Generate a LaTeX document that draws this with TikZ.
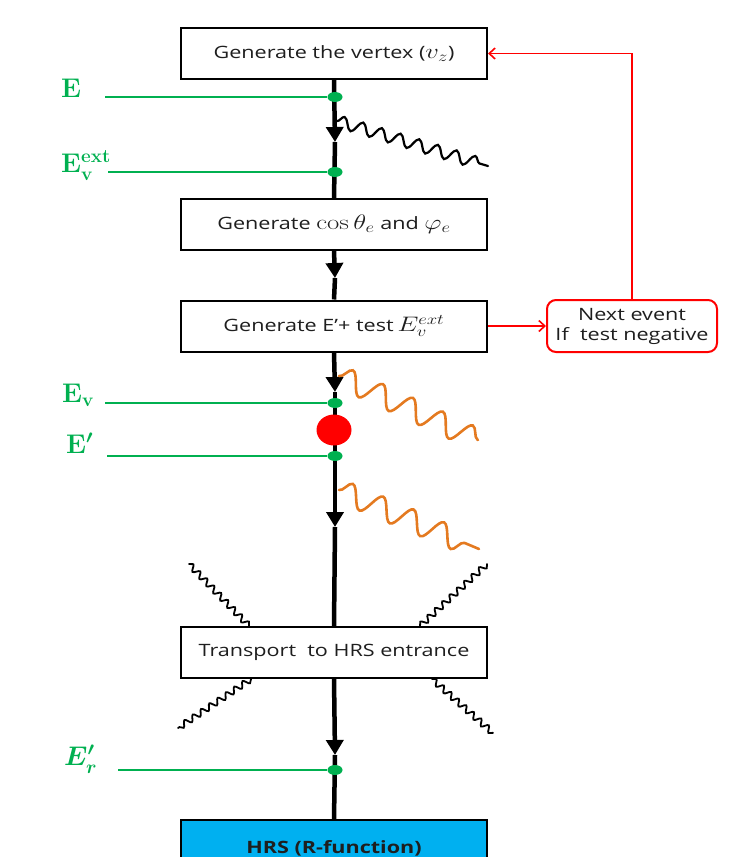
\RequirePackage{fix-cm}
\documentclass[tikz,border=0pt]{standalone}
\usepackage[no-math]{fontspec}
\setmainfont{Open Sans}
\usepackage{amsmath}
\usetikzlibrary{arrows.meta,decorations.pathmorphing,shapes.geometric}

\definecolor{gcol}{RGB}{0,176,80}
\definecolor{ocol}{RGB}{228,122,32}
\definecolor{rcol}{RGB}{255,0,0}
\definecolor{hcol}{RGB}{0,176,240}
\definecolor{tcol}{RGB}{30,30,30}

% box captions are set slightly wide
\newcommand\widetxt[1]{\scalebox{1.27}[1]{#1}}
% formulas inside captions, a little larger than the text
\newcommand\mth[1]{{\fontsize{21}{21}\selectfont$#1$}}

\begin{document}
\begin{tikzpicture}[x=1pt,y=-1pt,
  stepbox/.style={draw=black, line width=2pt, fill=white, minimum width=306pt,
    minimum height=51pt, inner sep=0pt, text=tcol, font=\fontsize{17}{20}\selectfont},
  notebox/.style={draw=rcol, line width=2pt, fill=white, rounded corners=9pt,
    minimum width=170pt, minimum height=52pt, inner sep=0pt, align=center,
    text=tcol, font=\fontsize{17}{20}\selectfont},
  hrsbox/.style={draw=black, line width=2pt, fill=hcol, minimum width=306pt,
    minimum height=56pt, inner sep=0pt, text=tcol, font=\fontsize{17}{20}\selectfont\bfseries},
  mainline/.style={line width=4.5pt, black},
  tip/.style={-{Triangle[width=17pt,length=15pt]}},
  dotg/.style={ellipse, fill=gcol, minimum width=15pt, minimum height=10pt, inner sep=0pt},
  gline/.style={line width=2.5pt, gcol},
  glabel/.style={text=gcol, font=\fontsize{27}{30}\selectfont\boldmath, inner sep=0pt, anchor=base west},
  redline/.style={line width=1.6pt, rcol},
  wave/.style={decorate, line width=2.2pt, line cap=round},
]
\clip (0,0) rectangle (739,857);

% process boxes
\node[stepbox] (b1) at (334,53.5) {\widetxt{Generate the vertex (\mth{v_z})}};
\node[stepbox] (b2) at (334,224.5) {\widetxt{Generate \mth{\cos\theta_e} and \mth{\varphi_e}}};
\node[stepbox] (b3) at (334,326) {\widetxt{Generate E'+ test\kern3pt\mth{E_v^{ext}}}};
\node[stepbox] (b4) at (334,652.5) {\widetxt{Transport\ \ to HRS entrance}};
\node[hrsbox] (hrs) at (334,848) {\widetxt{HRS (R-function)}};
\node[notebox] (nx) at (632,326) {\widetxt{Next event}\\\widetxt{If\ \ test negative}};

% arrow tips on the beam line
\coordinate (t1) at (335,142);
\coordinate (t2) at (335,278);
\coordinate (t3) at (335,392);
\coordinate (t4) at (335,527);
\coordinate (t5) at (335,755);

% beam line
\draw[mainline,tip] (b1.south) -- (t1);
\draw[mainline] (t1) -- (b2.north);
\draw[mainline,tip] (b2.south) -- (t2);
\draw[mainline] (t2) -- (b3.north);
\draw[mainline,tip] (b3.south) -- (t3);
\draw[mainline,tip] (t3) -- (t4);
\draw[mainline] (t4) -- (b4.north);
\draw[mainline,tip] (b4.south) -- (t5);
\draw[mainline] (t5) -- (hrs.north);

% radiated photons
\draw[wave, black, decoration={snake, amplitude=6pt, segment length=19.5pt}]
  (337,121) -- (488,166);
\draw[wave, ocol, line width=2.6pt, decoration={snake, amplitude=11pt, segment length=33pt}]
  (339,376) -- (478,440);
\draw[wave, ocol, line width=2.6pt, decoration={snake, amplitude=11pt, segment length=33pt}]
  (339,490) -- (479,549);

% photons around the transport step
\draw[wave, black, line width=1.8pt, decoration={snake, amplitude=3pt, segment length=10pt}]
  (189,564) -- (249,626);
\draw[wave, black, line width=1.8pt, decoration={snake, amplitude=3pt, segment length=10pt}]
  (487,564) -- (420,626);
\draw[wave, black, line width=1.8pt, decoration={snake, amplitude=3pt, segment length=10pt}]
  (251,679) -- (178,728);
\draw[wave, black, line width=1.8pt, decoration={snake, amplitude=3pt, segment length=10pt}]
  (432,679) -- (493,733);

% energy markers
\node[dotg] (dE) at (335,97) {};
\node[dotg] (dX) at (335,172) {};
\node[dotg] (dV) at (335,403) {};
\node[dotg] (dP) at (335,456) {};
\node[dotg] (dR) at (335,770) {};
\node[ellipse, fill=rcol, minimum width=35pt, minimum height=31pt, inner sep=0pt] (vtx) at (334,430) {};

\coordinate (sE) at (105,97);
\coordinate (sX) at (108,172);
\coordinate (sV) at (105,403);
\coordinate (sP) at (107,456);
\coordinate (sR) at (118,770);
\draw[gline] (sE) -- (dE);
\draw[gline] (sX) -- (dX);
\draw[gline] (sV) -- (dV);
\draw[gline] (sP) -- (dP);
\draw[gline] (sR) -- (dR);

\node[glabel] (lE) at (61,97) {$\mathbf{E}$};
\node[glabel] (lX) at (61,172) {$\mathbf{E_v^{ext}}$};
\node[glabel] (lV) at (62,402) {$\mathbf{E_v}$};
\node[glabel] (lP) at (66,453) {$\mathbf{E}^{\prime}$};
\node[glabel] (lR) at (64,765) {$E^{\prime}_r$};

% rejection loop
\draw[redline,-{Straight Barb[length=6pt,width=11pt]}] (b3.east) -- (nx.west);
\draw[redline,-{Straight Barb[length=6pt,width=11pt]}] (nx.north) |- (b1.east);
\end{tikzpicture}
\end{document}
